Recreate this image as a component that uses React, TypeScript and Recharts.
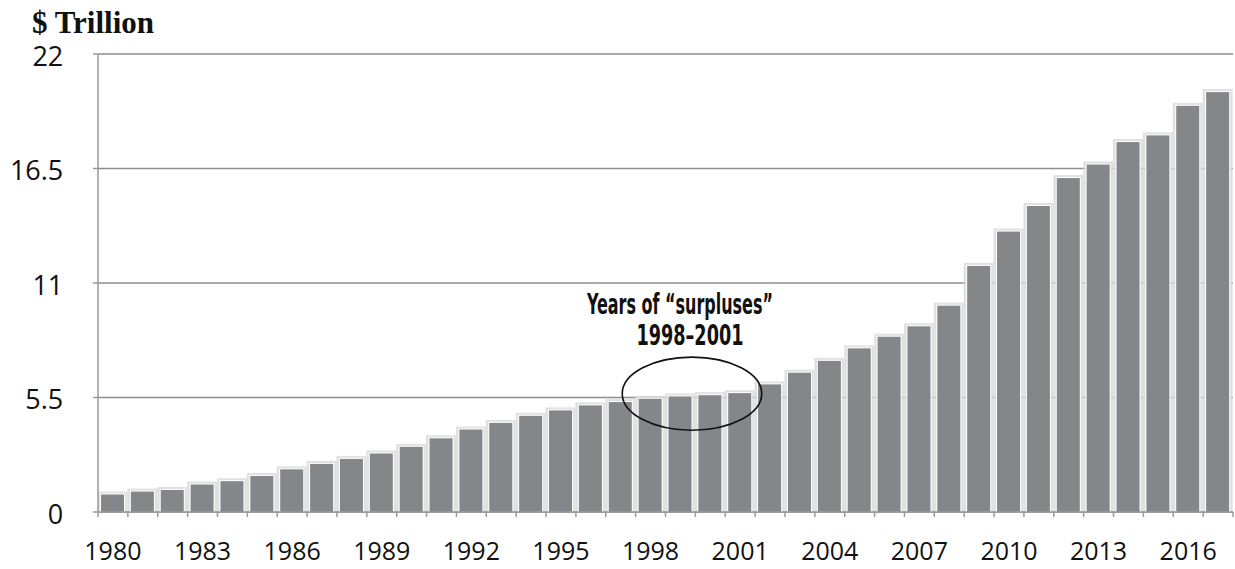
import React from "react";
import {
  BarChart,
  Bar,
  XAxis,
  YAxis,
  CartesianGrid,
  ReferenceArea,
} from "recharts";

// Fiscal years on the category axis
const years = [
  1980, 1981, 1982, 1983, 1984, 1985, 1986, 1987, 1988, 1989,
  1990, 1991, 1992, 1993, 1994, 1995, 1996, 1997, 1998, 1999,
  2000, 2001, 2002, 2003, 2004, 2005, 2006, 2007, 2008, 2009,
  2010, 2011, 2012, 2013, 2014, 2015, 2016, 2017,
];

// Cumulative national debt, $ trillion
const debt = [
  0.84, 0.98, 1.06, 1.32, 1.48, 1.73, 2.05, 2.31, 2.55, 2.81,
  3.13, 3.54, 3.96, 4.28, 4.62, 4.88, 5.12, 5.28, 5.44, 5.55,
  5.61, 5.71, 6.13, 6.69, 7.26, 7.86, 8.42, 8.92, 9.91, 11.82,
  13.47, 14.7, 16.04, 16.69, 17.77, 18.09, 19.51, 20.17,
];

// Labelled years on the x axis and value ticks on the y axis
const labelYears = [1980, 1983, 1986, 1989, 1992, 1995, 1998, 2001, 2004, 2007, 2010, 2013, 2016];
const valueTicks = [0, 5.5, 11, 16.5, 22];

// "Surplus" years highlighted by the ellipse
const surplusFrom = 1998;
const surplusTo = 2001;
const ellipseLow = 3.93;
const ellipseHigh = 7.44;

const data = years.map((year, i) => ({ year, debt: debt[i] }));

const WIDTH = 1235;
const HEIGHT = 569;
const MARGIN = { top: 54, right: 2, bottom: 0, left: 0 };
const Y_AXIS_W = 98;
const X_AXIS_H = 57;
const PLOT_W = WIDTH - MARGIN.left - MARGIN.right - Y_AXIS_W;
const BAND = PLOT_W / years.length;
const TICK = 5;

const AXIS_GRAY = "#9a9a9a";
const GRID_GRAY = "#8e8e8e";
const BAR_GRAY = "#85868a";
const SANS = "'Open Sans', 'DejaVu Sans', sans-serif";
const NARROW = "'Liberation Sans Narrow', 'DejaVu Sans Condensed', sans-serif";

const HaloBar = (props: any) => {
  const { x, y, width, height, fill } = props;
  if (!height || height <= 0) return null;
  return (
    <g>
      <rect x={x - 3.5} y={y - 3} width={width + 7} height={height + 3} fill="#dadada" opacity={0.8} />
      <rect x={x - 1} y={y - 1} width={width + 2} height={height + 1} fill="#ffffff" />
      <rect x={x} y={y} width={width} height={height} fill={fill} />
    </g>
  );
};

const YearTick = (props: any) => {
  const { x, y, payload, index } = props;
  const left = x - BAND / 2;
  const isLast = index === years.length - 1;
  return (
    <g>
      <line x1={left} x2={left} y1={y - TICK} y2={y} stroke={AXIS_GRAY} strokeWidth={1.5} />
      {isLast && (
        <line x1={x + BAND / 2} x2={x + BAND / 2} y1={y - TICK} y2={y} stroke={AXIS_GRAY} strokeWidth={1.5} />
      )}
      {labelYears.includes(payload.value) && (
        <text x={x} y={y + 42.6} textAnchor="middle" fontFamily={SANS} fontSize={25} fill="#111">
          {payload.value}
        </text>
      )}
    </g>
  );
};

const ValueTick = (props: any) => {
  const { x, y, payload } = props;
  return (
    <text x={x - 29.7} y={y + 11.7} textAnchor="end" fontFamily={SANS} fontSize={27} fill="#111">
      {payload.value}
    </text>
  );
};

const SurplusMark = (props: any) => {
  const { x, y, width, height } = props;
  const cx = x + width / 2 - 3.4;
  const cy = y + height / 2;
  return (
    <g>
      <ellipse cx={cx} cy={cy} rx={width / 2 + 10} ry={height / 2} fill="none" stroke="#111" strokeWidth={1.6} />
      <text
        x={cx - 12}
        y={y - 43.5}
        textAnchor="middle"
        fontFamily={NARROW}
        fontWeight="bold"
        fontSize={28}
        fill="#111"
        textLength={186}
        lengthAdjust="spacingAndGlyphs"
      >
        Years of “surpluses”
      </text>
      <text
        x={cx - 2}
        y={y - 12}
        textAnchor="middle"
        fontFamily={NARROW}
        fontWeight="bold"
        fontSize={28}
        fill="#111"
        textLength={107}
        lengthAdjust="spacingAndGlyphs"
      >
        1998–2001
      </text>
    </g>
  );
};

export default function App() {
  return (
    <div style={{ position: "absolute", left: 0, top: 0, width: WIDTH, height: HEIGHT, background: "#fff", overflow: "hidden" }}>
      <div
        style={{
          position: "absolute",
          left: 0,
          width: 1132,
          top: -29,
          textAlign: "center",
          fontFamily: "'Liberation Serif', serif",
          fontWeight: "bold",
          fontSize: 32,
          lineHeight: "32px",
          color: "#111",
          whiteSpace: "nowrap",
        }}
      >
        Cumulative U.S. National Debt 1980–2017
      </div>
      <div
        style={{
          position: "absolute",
          left: 32,
          top: 7,
          fontFamily: "'Liberation Serif', serif",
          fontWeight: "bold",
          fontSize: 31,
          lineHeight: "31px",
          color: "#111",
          whiteSpace: "nowrap",
        }}
      >
        $ Trillion
      </div>
      <BarChart width={WIDTH} height={HEIGHT} data={data} margin={MARGIN} barSize={23}>
        <CartesianGrid horizontal vertical={false} stroke={GRID_GRAY} strokeWidth={1.5} />
        <XAxis
          dataKey="year"
          type="category"
          interval={0}
          height={X_AXIS_H}
          tickSize={TICK}
          tickMargin={0}
          tickLine={false}
          axisLine={{ stroke: AXIS_GRAY, strokeWidth: 1.5 }}
          tick={<YearTick />}
        />
        <YAxis
          type="number"
          domain={[0, 22]}
          ticks={valueTicks}
          width={Y_AXIS_W}
          tickSize={TICK}
          tickMargin={0}
          tickLine={{ stroke: AXIS_GRAY, strokeWidth: 1.5 }}
          axisLine={{ stroke: AXIS_GRAY, strokeWidth: 1.5 }}
          tick={<ValueTick />}
        />
        <Bar dataKey="debt" fill={BAR_GRAY} shape={<HaloBar />} isAnimationActive={false} />
        <ReferenceArea
          x1={surplusFrom}
          x2={surplusTo}
          y1={ellipseLow}
          y2={ellipseHigh}
          shape={<SurplusMark />}
          ifOverflow="visible"
          zIndex={2000}
        />
      </BarChart>
    </div>
  );
}
